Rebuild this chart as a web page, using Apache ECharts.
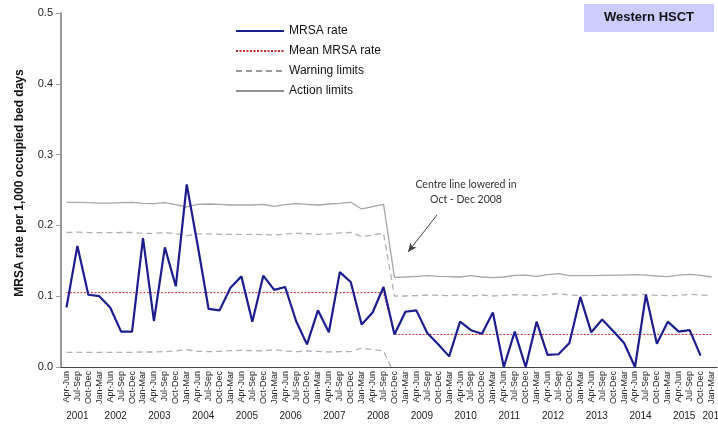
<!DOCTYPE html>
<html>
<head>
<meta charset="utf-8">
<script src="https://cdn.jsdelivr.net/npm/echarts@6/dist/echarts.min.js"></script>
<style>
  html, body { margin: 0; padding: 0; background: #fff; }
  #chart { width: 718px; height: 428px; }
</style>
</head>
<body>
<div id="chart"></div>
<script>
// quarter / year categories
const years = ['2001', '2002', '2003', '2004', '2005', '2006', '2007', '2008',
  '2009', '2010', '2011', '2012', '2013', '2014', '2015', '2016']
const quarterNames = ['Jan-Mar', 'Apr-Jun', 'Jul-Sep', 'Oct-Dec']

// MRSA rate, Apr-Jun 2001 .. Oct-Dec 2015
const mrsaRate = [
  0.084, 0.171, 0.102,
  0.100, 0.084, 0.050, 0.050,
  0.182, 0.065, 0.169, 0.114,
  0.258, 0.172, 0.082, 0.080,
  0.112, 0.128, 0.064, 0.129,
  0.109, 0.113, 0.065, 0.032,
  0.080, 0.049, 0.134, 0.120,
  0.060, 0.077, 0.113, 0.046,
  0.078, 0.080, 0.048, 0.032,
  0.015, 0.064, 0.052, 0.047,
  0.077, 0.000, 0.050, 0.000,
  0.064, 0.017, 0.018, 0.034,
  0.099, 0.049, 0.067, 0.051,
  0.034, 0.000, 0.102, 0.033,
  0.064, 0.050, 0.052, 0.016
]

const meanRate = [
  0.105, 0.105, 0.105,
  0.105, 0.105, 0.105, 0.105,
  0.105, 0.105, 0.105, 0.105,
  0.105, 0.105, 0.105, 0.105,
  0.105, 0.105, 0.105, 0.105,
  0.105, 0.105, 0.105, 0.105,
  0.105, 0.105, 0.105, 0.105,
  0.105, 0.105, 0.105, 0.046,
  0.046, 0.046, 0.046, 0.046,
  0.046, 0.046, 0.046, 0.046,
  0.046, 0.046, 0.046, 0.046,
  0.046, 0.046, 0.046, 0.046,
  0.046, 0.046, 0.046, 0.046,
  0.046, 0.046, 0.046, 0.046,
  0.046, 0.046, 0.046, 0.046,
  0.046
]

const warningUpper = [
  0.1900, 0.1905, 0.1900,
  0.1897, 0.1897, 0.1900, 0.1900,
  0.1888, 0.1888, 0.1900, 0.1883,
  0.1855, 0.1879, 0.1879, 0.1874,
  0.1874, 0.1874, 0.1874, 0.1870,
  0.1864, 0.1879, 0.1888, 0.1883,
  0.1874, 0.1879, 0.1894, 0.1902,
  0.1841, 0.1864, 0.1888, 0.1003,
  0.1003, 0.1008, 0.1017, 0.1012,
  0.1008, 0.1017, 0.1003, 0.1017,
  0.1003, 0.1012, 0.1022, 0.1017,
  0.1008, 0.1022, 0.1036, 0.1017,
  0.1012, 0.1012, 0.1012, 0.1012,
  0.1017, 0.1017, 0.1026, 0.1012,
  0.1008, 0.1012, 0.1026, 0.1017,
  0.1008
]

const warningLower = [
  0.0207, 0.0207, 0.0207,
  0.0207, 0.0207, 0.0207, 0.0207,
  0.0212, 0.0212, 0.0217, 0.0226,
  0.0245, 0.0221, 0.0217, 0.0221,
  0.0231, 0.0235, 0.0231, 0.0226,
  0.0245, 0.0226, 0.0217, 0.0226,
  0.0221, 0.0212, 0.0217, 0.0217,
  0.0268, 0.0245, 0.0226, -0.011,
  -0.011, -0.011, -0.011, -0.011,
  -0.011, -0.011, -0.011, -0.011,
  -0.011, -0.011, -0.011, -0.011,
  -0.011, -0.011, -0.011, -0.011,
  -0.011, -0.011, -0.011, -0.011,
  -0.011, -0.011, -0.011, -0.011,
  -0.011, -0.011, -0.011, -0.011,
  -0.011
]

const actionUpper = [
  0.2326, 0.2326, 0.2323,
  0.2316, 0.2316, 0.2321, 0.2326,
  0.2312, 0.2307, 0.2321, 0.2293,
  0.2260, 0.2298, 0.2302, 0.2298,
  0.2288, 0.2288, 0.2288, 0.2298,
  0.2269, 0.2293, 0.2307, 0.2298,
  0.2288, 0.2302, 0.2312, 0.2326,
  0.2232, 0.2265, 0.2298, 0.1266,
  0.1271, 0.1281, 0.1290, 0.1281,
  0.1276, 0.1271, 0.1290, 0.1271,
  0.1262, 0.1271, 0.1295, 0.1299,
  0.1281, 0.1304, 0.1318, 0.1290,
  0.1290, 0.1290, 0.1295, 0.1299,
  0.1299, 0.1304, 0.1299, 0.1285,
  0.1276, 0.1299, 0.1309, 0.1295,
  0.1271
]

const yTicks = [0, 0.1, 0.2, 0.3, 0.4, 0.5]

// build the two category levels: quarter and year (Apr-Jun 2001 .. Jan-Mar 2016)
const quarterCats = []
const yearCats = []
years.forEach(function (y, yi) {
  quarterNames.forEach(function (q, qi) {
    if (yi === 0 && qi === 0) return
    if (yi === years.length - 1 && qi > 0) return
    quarterCats.push(q)
    yearCats.push(y)
  })
})

// index where each year's label sits: 'even' ones get a half-band shift,
// the last (single quarter, cut off at the edge) is pushed right
const yearLabelAt = {}
years.forEach(function (y, yi) {
  const first = yearCats.indexOf(y)
  const last = yearCats.lastIndexOf(y)
  const n = last - first + 1
  let kind = n % 2 === 0 ? 's' : 'n'
  if (yi === years.length - 1) kind = 'e'
  yearLabelAt[first + Math.floor((n - 1) / 2)] = kind
})

const FONT = '"Liberation Sans", Arial, sans-serif'
const chart = echarts.init(document.getElementById('chart'))

chart.setOption({
  animation: false,
  textStyle: { fontFamily: FONT },
  title: {
    text: 'Western HSCT',
    left: 584,
    top: 4,
    padding: [7, 20, 8, 20],
    backgroundColor: '#ccccff',
    textStyle: { fontFamily: FONT, fontSize: 13, fontWeight: 'bold', color: '#111' }
  },
  legend: {
    orient: 'vertical',
    left: 235,
    top: 25,
    padding: 0,
    itemWidth: 48,
    itemHeight: 14,
    itemGap: 8,
    itemStyle: { opacity: 0 },
    textStyle: { fontFamily: FONT, fontSize: 12, color: '#111' },
    data: [
      { name: 'MRSA rate' },
      { name: 'Mean MRSA rate' },
      { name: 'Warning limits', lineStyle: { color: '#999' } },
      { name: 'Action limits', lineStyle: { color: '#222', width: 1 } }
    ]
  },
  grid: {
    left: 61, right: 1, top: 13, bottom: 61,
    containLabel: false,
    outerBoundsMode: 'none'
  },
  xAxis: [
    {
      type: 'category',
      position: 'bottom',
      data: quarterCats,
      boundaryGap: true,
      axisLine: { lineStyle: { color: '#444', width: 1 } },
      axisTick: { interval: 0, length: 38, lineStyle: { color: '#999' } },
      axisLabel: {
        interval: 0,
        rotate: 90,
        margin: 4,
        fontSize: 9,
        color: '#222',
        fontFamily: FONT
      }
    },
    {
      type: 'category',
      position: 'bottom',
      data: yearCats,
      boundaryGap: true,
      axisLine: { show: false },
      axisTick: {
        length: 61,
        lineStyle: { color: '#999', width: 1.5 },
        interval: function (index) {
          return index === 0 || quarterCats[index] === 'Jan-Mar'
        }
      },
      axisLabel: {
        interval: 0,
        margin: 44,
        fontSize: 10,
        color: '#222',
        fontFamily: FONT,
        formatter: function (value, index) {
          const kind = yearLabelAt[index]
          if (!kind) return ''
          return '{' + kind + '|' + value + '}'
        },
        rich: {
          s: { fontSize: 10, color: '#222', fontFamily: FONT, padding: [0, 0, 0, 11] },
          n: { fontSize: 10, color: '#222', fontFamily: FONT },
          e: { fontSize: 10, color: '#222', fontFamily: FONT, padding: [0, 0, 0, 4] }
        }
      }
    }
  ],
  yAxis: {
    type: 'value',
    min: yTicks[0],
    max: yTicks[yTicks.length - 1],
    interval: 0.1,
    name: 'MRSA rate per 1,000 occupied bed days',
    nameLocation: 'middle',
    nameGap: 35,
    nameTextStyle: {
      fontFamily: FONT,
      fontSize: 12,
      fontWeight: 'bold',
      color: '#111',
      padding: [0, 0, 0, 14]
    },
    axisLine: { show: true, lineStyle: { color: '#999', width: 2 } },
    axisTick: { show: true, length: 5, lineStyle: { color: '#999' } },
    splitLine: { show: false },
    axisLabel: {
      margin: 8,
      fontSize: 11,
      color: '#222',
      fontFamily: FONT,
      formatter: function (v) { return v.toFixed(1) }
    }
  },
  graphic: [
    {
      type: 'text',
      x: 466,
      y: 177,
      style: {
        text: 'Centre line lowered in\nOct - Dec 2008',
        fontFamily: 'Lato, "Open Sans", sans-serif',
        fontSize: 10.5,
        lineHeight: 15,
        textAlign: 'center',
        align: 'center',
        fill: '#333'
      }
    }
  ],
  series: [
    {
      name: 'Action limits',
      type: 'line',
      data: actionUpper,
      symbol: 'none',
      lineStyle: { color: '#a6a6a6', width: 1.3 },
      itemStyle: { color: '#a6a6a6' },
      markLine: {
        silent: true,
        symbol: ['none', 'arrow'],
        symbolSize: [6, 9],
        label: { show: false },
        lineStyle: { color: '#444', width: 1, type: 'solid' },
        data: [[{ x: 437, y: 215 }, { x: 408, y: 252 }]]
      }
    },
    {
      name: 'Warning limits',
      type: 'line',
      data: warningUpper,
      symbol: 'none',
      lineStyle: { color: '#b0b0b0', width: 1.3, type: [6, 4] },
      itemStyle: { color: '#b0b0b0' }
    },
    {
      name: 'Warning limits',
      type: 'line',
      data: warningLower,
      symbol: 'none',
      lineStyle: { color: '#b0b0b0', width: 1.3, type: [6, 4] },
      itemStyle: { color: '#b0b0b0' }
    },
    {
      name: 'Mean MRSA rate',
      type: 'line',
      data: meanRate,
      symbol: 'none',
      lineStyle: { color: '#c62828', width: 1, type: [2, 1.5] },
      itemStyle: { color: '#c62828' }
    },
    {
      name: 'MRSA rate',
      type: 'line',
      data: mrsaRate,
      symbol: 'none',
      lineStyle: { color: '#1c1c8f', width: 2.2 },
      itemStyle: { color: '#1c1c8f' }
    }
  ]
})
</script>
</body>
</html>
